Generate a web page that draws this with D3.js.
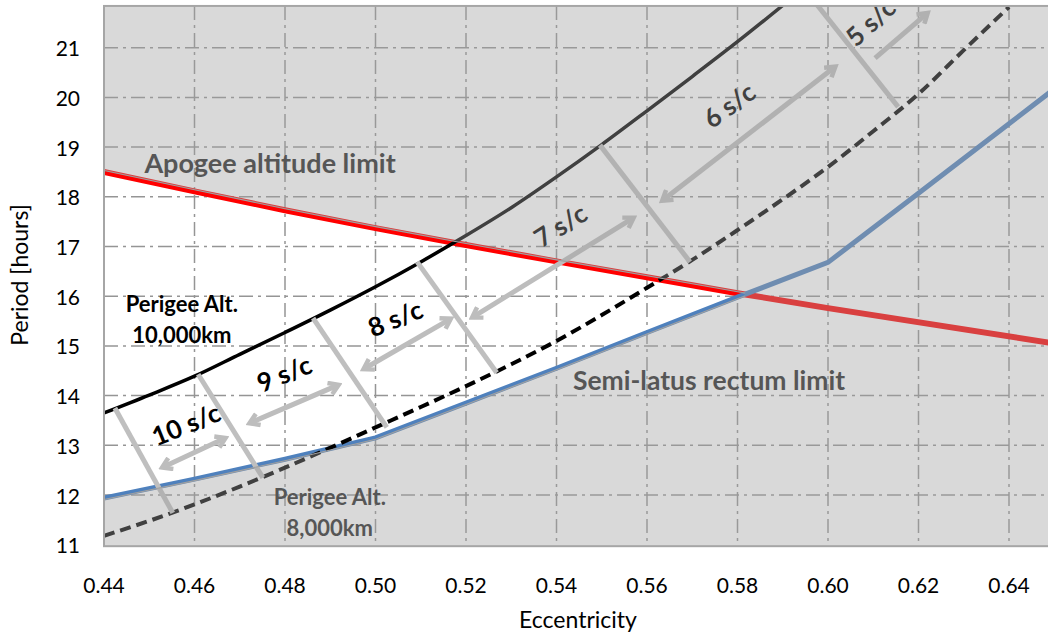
<!DOCTYPE html>
<html><head><meta charset="utf-8">
<script src="https://cdn.jsdelivr.net/npm/d3@7/dist/d3.min.js"></script>
<style>body{margin:0;background:#fff}</style>
</head><body>
<svg id="c" width="1048" height="636"></svg>
<script>
// ---------- data ----------
const xTicks = [0.44,0.46,0.48,0.50,0.52,0.54,0.56,0.58,0.60,0.62,0.64];
const yTicks = [11,12,13,14,15,16,17,18,19,20,21];

const eApogee = [0.44,0.46,0.48,0.50,0.52,0.54,0.56,0.58,0.60,0.65];
const apogeeLimit = [18.50,18.11,17.73,17.37,17.03,16.70,16.38,16.06,15.76,15.05];

const eSemiLatus = [0.44,0.46,0.48,0.50,0.52,0.54,0.56,0.58,0.60,0.62,0.64,0.65];
const semiLatusLimit = [11.94,12.32,12.72,13.15,13.85,14.55,15.27,15.98,16.68,18.07,19.47,20.17];

const ePerigee10 = [0.44,0.45,0.46,0.47,0.48,0.49,0.50,0.51,0.52,0.53,0.54,0.55,0.56,0.57,0.58,0.59];
const perigee10000 = [13.65,14.01,14.39,14.83,15.27,15.72,16.19,16.69,17.22,17.78,18.40,19.05,19.73,20.42,21.12,21.85];

const ePerigee8 = [0.44,0.45,0.46,0.47,0.48,0.49,0.50,0.51,0.52,0.53,0.54,0.55,0.56,0.57,0.58,0.59,0.60,0.61,0.62,0.63,0.64];
const perigee8000 = [11.18,11.48,11.81,12.17,12.55,12.95,13.36,13.77,14.19,14.63,15.10,15.62,16.17,16.73,17.33,17.95,18.60,19.32,20.07,20.95,21.82];

// spacecraft-count separators (eccentricity, period) top -> bottom
const scSegments = [
  {e1:0.4424,p1:13.75,e2:0.4552,p2:11.64},
  {e1:0.4608,p1:14.43,e2:0.4751,p2:12.35},
  {e1:0.4862,p1:15.56,e2:0.5025,p2:13.36},
  {e1:0.5092,p1:16.69,e2:0.5268,p2:14.46},
  {e1:0.5496,p1:19.04,e2:0.5695,p2:16.69},
  {e1:0.5976,p1:21.86,e2:0.6155,p2:19.81}
];
// arrows (start -> end); both = double-headed
const scArrows = [
  {e1:0.4530,p1:12.56,e2:0.4667,p2:13.14,both:true},
  {e1:0.4723,p1:13.45,e2:0.4917,p2:14.21,both:true},
  {e1:0.4975,p1:14.54,e2:0.5165,p2:15.54,both:true},
  {e1:0.5215,p1:15.58,e2:0.5569,p2:17.57,both:true},
  {e1:0.5635,p1:17.93,e2:0.6015,p2:20.61,both:true},
  {e1:0.6104,p1:20.79,e2:0.6219,p2:21.69,both:false}
];
const scLabels = ["10 s/c","9 s/c","8 s/c","7 s/c","6 s/c","5 s/c"];
const scLabelE = [0.4581,0.4798,0.5043,0.5408,0.5781,0.6093];
const scLabelP = [13.43,14.45,15.56,17.43,19.85,21.52];
const scLabelAngle = [-22,-22,-22,-32,-36,-42];

const notes = [
  {t:"Apogee altitude limit", e:0.4767, p:18.70, c:"#262626", s:27},
  {t:"Perigee Alt.", e:0.4572, p:15.86, c:"#000", s:22},
  {t:"10,000km", e:0.4572, p:15.22, c:"#000", s:22},
  {t:"Perigee Alt.", e:0.4899, p:11.96, c:"#262626", s:22},
  {t:"8,000km", e:0.4899, p:11.34, c:"#262626", s:22},
  {t:"Semi-latus rectum limit", e:0.5737, p:14.31, c:"#262626", s:26.5}
];

// ---------- layout ----------
const svg = d3.select("#c");
const FONT = "Lato, 'Open Sans', sans-serif";
const x = d3.scaleLinear().domain([0.44,0.64]).range([104,1009]);
const y = d3.scaleLinear().domain([11,21]).range([544.7,47.7]);
const plotL = x(0.44), plotR = 1052, plotT = y(21.84), plotB = y(10.97);

svg.append("defs").append("clipPath").attr("id","clip")
  .append("rect").attr("x",plotL).attr("y",plotT).attr("width",plotR-plotL).attr("height",plotB-plotT);

const defs = svg.select("defs");
defs.append("marker").attr("id","ah").attr("viewBox","0 0 10 10")
  .attr("refX",7).attr("refY",5).attr("markerWidth",16).attr("markerHeight",16)
  .attr("markerUnits","userSpaceOnUse").attr("orient","auto-start-reverse")
  .append("path").attr("d","M1.5,1.2 L7.5,5 L1.5,8.8").attr("fill","none")
  .attr("stroke","#bdbdbd").attr("stroke-width",2.8).attr("stroke-linejoin","miter");

const g = svg.append("g").attr("clip-path","url(#clip)");
g.append("rect").attr("x",plotL).attr("y",plotT).attr("width",plotR-plotL).attr("height",plotB-plotT).attr("fill","#fff");

// grid
const dash = "14,5,3,5";
g.selectAll(".vg").data(xTicks.slice(1)).enter().append("line")
  .attr("x1",d=>x(d)).attr("x2",d=>x(d)).attr("y1",plotT).attr("y2",plotB)
  .attr("stroke","#959595").attr("stroke-width",1.5).attr("stroke-dasharray",dash);
g.selectAll(".hg").data(yTicks.slice(1)).enter().append("line")
  .attr("x1",plotL).attr("x2",plotR).attr("y1",d=>y(d)).attr("y2",d=>y(d))
  .attr("stroke","#959595").attr("stroke-width",1.5).attr("stroke-dasharray",dash);

const zip = (a,b)=>a.map((v,i)=>[v,b[i]]);
const lin = d3.line().x(d=>x(d[0])).y(d=>y(d[1]));
const smooth = d3.line().x(d=>x(d[0])).y(d=>y(d[1])).curve(d3.curveMonotoneX);

const red = zip(eApogee, apogeeLimit);
const blue = zip(eSemiLatus, semiLatusLimit);

g.append("path").attr("d",lin(red)).attr("fill","none").attr("stroke","#ff0000").attr("stroke-width",6);
g.append("path").attr("d",lin(blue)).attr("fill","none").attr("stroke","#4f81bd").attr("stroke-width",5);
g.append("path").attr("d",smooth(zip(ePerigee8,perigee8000))).attr("fill","none")
  .attr("stroke","#000").attr("stroke-width",4).attr("stroke-dasharray","11,6");
g.append("path").attr("d",smooth(zip(ePerigee10,perigee10000))).attr("fill","none")
  .attr("stroke","#000").attr("stroke-width",3.5);

// separators and arrows
g.selectAll(".seg").data(scSegments).enter().append("line")
  .attr("x1",d=>x(d.e1)).attr("y1",d=>y(d.p1)).attr("x2",d=>x(d.e2)).attr("y2",d=>y(d.p2))
  .attr("stroke","#bfbfbf").attr("stroke-width",5);
g.selectAll(".arr").data(scArrows).enter().append("line")
  .attr("x1",d=>x(d.e1)).attr("y1",d=>y(d.p1)).attr("x2",d=>x(d.e2)).attr("y2",d=>y(d.p2))
  .attr("stroke","#bdbdbd").attr("stroke-width",5)
  .attr("marker-end","url(#ah)").attr("marker-start",d=>d.both?"url(#ah)":null);

// labels
g.selectAll(".scl").data(scLabels).enter().append("text")
  .attr("transform",(d,i)=>`translate(${x(scLabelE[i])},${y(scLabelP[i])}) rotate(${scLabelAngle[i]})`)
  .attr("text-anchor","middle").attr("dominant-baseline","central")
  .attr("font-family",FONT).attr("font-weight","bold").attr("font-size",26).attr("fill","#000").text(d=>d);
g.selectAll(".note").data(notes).enter().append("text")
  .attr("x",d=>x(d.e)).attr("y",d=>y(d.p)).attr("text-anchor","middle").attr("dominant-baseline","central")
  .attr("font-family",FONT).attr("font-weight","bold").attr("font-size",d=>d.s).attr("fill",d=>d.c).text(d=>d.t);

// ---------- grey overlay with the feasible (white) region cut out ----------
function interp(xs, ys, e){
  for(let i=0;i<xs.length-1;i++){ if(e>=xs[i]&&e<=xs[i+1]){const t=(e-xs[i])/(xs[i+1]-xs[i]);return ys[i]+t*(ys[i+1]-ys[i]);} }
  return ys[ys.length-1];
}
let eCross = 0.44;
for(let e=0.44;e<=0.65;e+=0.0001){ if(interp(eSemiLatus,semiLatusLimit,e)>=interp(eApogee,apogeeLimit,e)){eCross=e;break;} }
const pCross = interp(eApogee,apogeeLimit,eCross);
const bluePart = blue.filter(d=>d[0]<eCross).concat([[eCross,pCross]]);
const redPart = red.filter(d=>d[0]<eCross).concat([[eCross,pCross]]);
const off = 1.5;
const bluePx = bluePart.map(d=>[x(d[0]),y(d[1])+off]);
const redPx = redPart.map(d=>[x(d[0]),y(d[1])-off]);
const holePts = [[plotL-2,redPx[0][1]],[plotL-2,bluePx[0][1]]].concat(bluePx.slice(0,-1),[[x(eCross),y(pCross)]],redPx.slice(0,-1).reverse());
const outer = `M${plotL-2},${plotT-2}H${plotR+2}V${plotB+2}H${plotL-2}Z`;
const hole = "M"+holePts.map(p=>p.join(",")).join("L")+"Z";
g.append("path").attr("d",outer+hole).attr("fill-rule","evenodd").attr("fill","rgb(160,160,160)").attr("fill-opacity",0.4);
const edge = d3.line();
g.append("path").attr("d",edge(redPx)).attr("fill","none").attr("stroke","#a0a0a0").attr("stroke-width",1.1);
g.append("path").attr("d",edge(bluePx)).attr("fill","none").attr("stroke","#a0a0a0").attr("stroke-width",1.1);

// frame
svg.append("rect").attr("x",plotL).attr("y",plotT).attr("width",plotR-plotL).attr("height",plotB-plotT)
  .attr("fill","none").attr("stroke","#a6a6a6").attr("stroke-width",2);

// axes labels
svg.selectAll(".xt").data(xTicks).enter().append("text")
  .attr("x",d=>x(d)).attr("y",593).attr("text-anchor","middle")
  .attr("font-family",FONT).attr("font-size",21).attr("fill","#000").text(d=>d.toFixed(2));
svg.selectAll(".yt").data(yTicks).enter().append("text")
  .attr("x",80).attr("y",d=>y(d)).attr("text-anchor","end").attr("dominant-baseline","central")
  .attr("font-family",FONT).attr("font-size",21).attr("fill","#000").text(d=>d);
svg.append("text").attr("x",578).attr("y",628).attr("text-anchor","middle")
  .attr("font-family",FONT).attr("font-size",23).attr("fill","#000").text("Eccentricity");
svg.append("text").attr("transform","translate(28,275) rotate(-90)").attr("text-anchor","middle")
  .attr("font-family",FONT).attr("font-size",23).attr("fill","#000").text("Period [hours]");
</script>
</body></html>
